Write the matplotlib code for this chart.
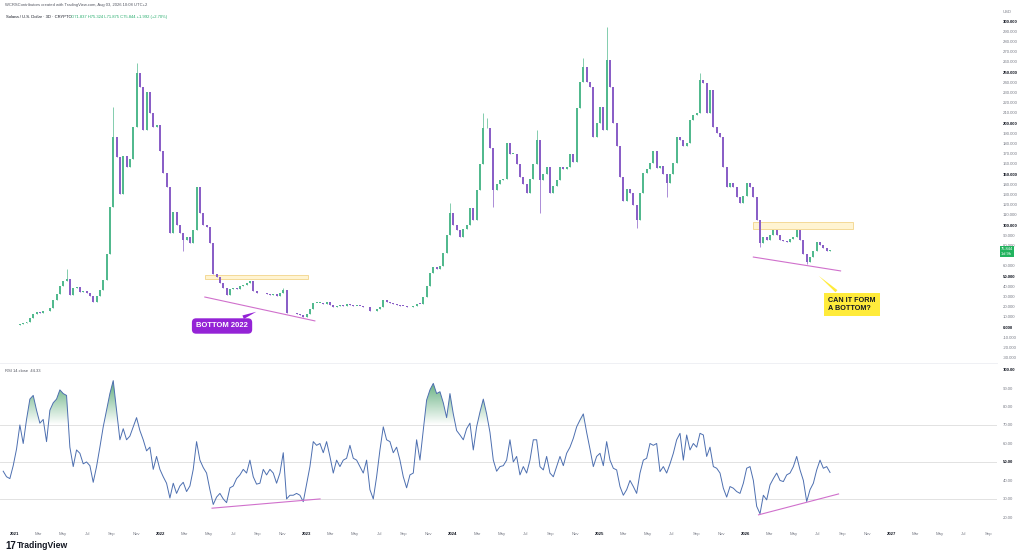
import numpy as np
import pandas as pd
import matplotlib
matplotlib.use('Agg')
import matplotlib.pyplot as plt
import matplotlib.dates as mdates
from matplotlib.path import Path
from matplotlib.patches import PathPatch, Rectangle

plt.rcParams['font.family'] = ['Liberation Sans', 'DejaVu Sans']

# SOL/USD closes, one bar every 200 hours
closes = [
    1.8, 1.6, 1.5, 1.6, 2.4, 3.4, 3.6, 4.5, 8.5, 13,
    15, 14, 15.5, 16, 19, 26, 32, 40, 45, 47,
    31, 38, 39, 34, 35, 33, 30, 25, 30, 36,
    46, 72, 118, 186, 167, 130, 168, 157, 165, 196,
    249, 235, 193, 230, 210, 196, 198, 173, 151, 137,
    92, 113, 100, 92, 85, 88, 82, 95, 137, 112,
    100, 98, 82, 52, 49, 43, 38, 31, 37, 38,
    37, 40, 41, 43, 45, 35, 33, 33, 33, 32,
    31, 32, 30, 33, 36, 14, 13.5, 14, 13, 12,
    10, 13, 18, 23.5, 24, 24, 23, 24.5, 22, 20,
    20.5, 21.5, 21, 22.5, 21.5, 21, 21, 20.5, 20, 19.5,
    15.5, 16, 18, 19.5, 26, 24.5, 23.5, 23, 22, 21,
    20.5, 19.5, 19.5, 21, 23, 22.5, 29, 40, 53, 59,
    57, 60, 73, 90, 112, 100, 95, 88, 96, 100,
    117, 105, 134, 160, 195, 195, 176, 134, 140, 144,
    145, 180, 170, 170, 160, 147, 140, 131, 145, 160,
    183, 144, 150, 157, 131, 138, 144, 157, 155, 157,
    170, 162, 215, 240, 255, 240, 235, 186, 200, 216,
    193, 262, 235, 200, 177, 147, 124, 135, 131, 120,
    105, 131, 151, 155, 161, 173, 156, 158, 150, 141,
    150, 161, 186, 183, 177, 180, 203, 208, 210, 242,
    239, 210, 232, 196, 190, 186, 157, 137, 141, 137,
    127, 122, 128, 141, 137, 127, 105, 82, 88, 85,
    90, 95, 90, 85, 84, 83, 86, 88, 95, 85,
    72, 64, 69, 75, 83, 80, 77, 75, 75.844,
]

# notable wick extremes (bar index -> price)
wick_highs = {19: 57, 33: 216, 40: 259, 84: 38, 134: 122, 144: 210, 145: 205,
              160: 193, 174: 264, 181: 294, 209: 249}
wick_lows = {54: 75, 147: 118, 161: 112, 190: 97, 199: 127, 227: 78, 241: 62}

# RSI(14) on the same bars
rsi_values = [
    45, 42, 41, 48, 57, 70, 60, 73, 84, 86,
    78, 71, 73, 61, 78, 82, 84, 89, 87, 86,
    58, 47.5, 56.5, 54.7, 49, 50, 48, 39, 47.5, 58,
    69, 78, 87, 94, 78, 62, 68, 62, 64, 69,
    74, 67, 62, 56, 58, 46, 53, 46, 42, 38.5,
    30.5, 38.5, 33, 37, 39, 34, 37, 46, 61, 51,
    47, 44, 35, 27, 31, 33, 30, 28, 36, 37,
    41, 43, 46, 44, 51, 42, 38, 38.5, 46, 43,
    46, 44, 38.5, 44, 55, 30, 32, 32, 33, 32,
    28.5, 38, 47.5, 61, 59, 60, 55, 61, 53, 44,
    51, 47.5, 51, 52, 59, 52, 51, 47.5, 44, 51,
    35, 30, 42, 56.5, 69, 62, 61, 55, 58, 51,
    42, 36, 43, 44, 62, 51, 67, 83.5, 89, 92.5,
    87, 88, 82, 74, 87, 76, 67, 64.6, 62, 68,
    71, 56.5, 69, 77, 84, 76, 66, 51, 45, 47.5,
    48, 51, 62,
    50, 53, 43, 47.5, 44, 51, 62, 62, 47.5, 45.7,
    53, 44, 42, 47.5, 53, 48, 54.7, 58, 62.8, 69,
    72.7, 76, 66, 57, 47.5, 53, 54.7, 48, 61, 51,
    46.6, 45.7, 36.7, 32, 35, 40, 36.7, 33, 44, 51,
    52, 60, 59, 60, 44.8, 47.5, 44, 49, 54.7, 62,
    65.5, 51, 64.6, 56.5, 60, 58, 65.5, 64.6, 53, 58,
    47.5, 46.6, 44, 35.8, 31, 36.7, 35.8, 34, 33, 38.5,
    46.6, 47.5, 40, 26, 22, 32, 29.5, 37.6, 41, 44,
    40, 39.4, 43, 44, 47.5, 53, 45.7, 40, 28.6, 35,
    38.5, 45.7, 51, 46.6, 47.5, 44.33,
]

first_bar = '2020-12-03'
bar_step = '200h'

# drawings on the chart: (date, value)
box_2022 = ('2022-04-21', '2023-01-04', 47, 51)
box_2026 = ('2026-01-21', '2026-09-28', 96.5, 103)
trend_2022 = [('2022-04-21', 29.4), ('2023-01-21', 6)]
trend_2026 = [('2026-01-21', 68.6), ('2026-08-27', 55)]
rsi_trend_2022 = [('2022-05-09', 25), ('2023-02-03', 30)]
rsi_trend_2026 = [('2026-02-03', 21.4), ('2026-08-22', 32.7)]

UP = '#52b98e'
DOWN = '#8a5fc7'
PINK = '#d070cc'
GREY = '#787b86'
DARK = '#131722'
SMALL = 3.1

W, H = 1024, 556


def px_box(x0, y0, x1, y1):
    return [x0 / W, 1 - y1 / H, (x1 - x0) / W, (y1 - y0) / H]


def d(s):
    return mdates.date2num(pd.Timestamp(s))


dates = pd.date_range(first_bar, periods=len(closes), freq=bar_step)
xs = mdates.date2num(dates)
c = np.array(closes, dtype=float)
o = np.r_[c[0], c[:-1]]
hi = np.maximum(o, c)
lo = np.minimum(o, c)
for k, v in wick_highs.items():
    hi[k] = v
for k, v in wick_lows.items():
    lo[k] = v
up = c >= o
cols = np.where(up, UP, DOWN)

fig = plt.figure(figsize=(10.24, 5.56), dpi=100)
ax = fig.add_axes(px_box(0, 14, 997, 362))
ax2 = fig.add_axes(px_box(0, 364, 997, 525), sharex=ax)

# candles
ax.vlines(xs, lo, hi, colors=cols, lw=0.5, zorder=2)
body = np.maximum(np.abs(c - o), 0.6)
ax.bar(xs, body, bottom=np.minimum(o, c), width=4.8, color=cols, lw=0, zorder=3)

# yellow zones and trend lines
for b in (box_2022, box_2026):
    ax.add_patch(Rectangle((d(b[0]), b[2]), d(b[1]) - d(b[0]), b[3] - b[2],
                           fc='#fff4d2', ec='#f3d58a', lw=0.6, zorder=1))
for t in (trend_2022, trend_2026):
    ax.plot([d(t[0][0]), d(t[1][0])], [t[0][1], t[1][1]], color=PINK, lw=0.8, zorder=4)

ax.annotate('BOTTOM 2022', xy=(d('2022-09-03'), 16), xytext=(d('2022-06-03'), 1),
            ha='center', va='center', fontsize=5.5, fontweight='bold', color='white',
            bbox=dict(boxstyle='round,pad=0.55', fc='#9423d6', ec='none'),
            arrowprops=dict(arrowstyle='wedge,tail_width=0.5', fc='#9423d6', ec='none'),
            zorder=6)
ax.annotate('CAN IT FORM\nA BOTTOM?', xy=(d('2026-06-28'), 52), xytext=(d('2026-07-27'), 22),
            ha='left', va='center', fontsize=5.2, fontweight='bold', color=DARK,
            linespacing=1.1,
            bbox=dict(boxstyle='square,pad=0.6', fc='#ffeb3b', ec='none'),
            arrowprops=dict(arrowstyle='wedge,tail_width=0.4', fc='#ffeb3b', ec='none'),
            zorder=6)

ax.set_ylim(-34.3, 306.9)
ax.yaxis.tick_right()
pticks = np.arange(-30, 301, 10)
ax.set_yticks(pticks)
# the 70 label sits under the last-price tag
ax.set_yticklabels(['' if v == 70 else f'{v:.3f}' for v in pticks])
ax.tick_params(axis='y', length=0, pad=4, labelsize=SMALL, labelcolor=GREY)
for v, lab in zip(pticks, ax.get_yticklabels()):
    if v % 50 == 0:
        lab.set_fontweight('bold')
        lab.set_color(DARK)
ax.tick_params(axis='x', length=0, labelbottom=False)

# last price tag: price on the first line, bar countdown below it
ax.text(1.004, c[-1] + 2.2, '75.844\n1d 9h', transform=ax.get_yaxis_transform(),
        ha='left', va='top', fontsize=2.9, color='white', linespacing=1.1,
        bbox=dict(boxstyle='square,pad=0.3', fc='#22b35e', ec='none'), clip_on=False)

# RSI pane
rsi = np.array(rsi_values, dtype=float)
for lvl in (70, 50, 30):
    ax2.axhline(lvl, color='#e2e2e2', lw=0.7, zorder=1)
fb = ax2.fill_between(xs, 70, rsi, where=rsi > 70, interpolate=True, color='none', lw=0)
clip = PathPatch(Path.make_compound_path(*fb.get_paths()), transform=ax2.transData,
                 fc='none', ec='none')
ax2.add_patch(clip)
grad = np.zeros((100, 2, 4))
grad[:, :, 0] = 0.22
grad[:, :, 1] = 0.60
grad[:, :, 2] = 0.36
grad[:, :, 3] = np.linspace(0.85, 0.0, 100)[:, None]
im = ax2.imshow(grad, extent=[xs[0], xs[-1], 70, 95], origin='upper', aspect='auto', zorder=2)
im.set_clip_path(clip)
ax2.plot(xs, rsi, color='#4d6fb0', lw=0.7, zorder=3)
for t in (rsi_trend_2022, rsi_trend_2026):
    ax2.plot([d(t[0][0]), d(t[1][0])], [t[0][1], t[1][1]], color=PINK, lw=0.8, zorder=4)

ax2.set_ylim(15.9, 103)
ax2.yaxis.tick_right()
rticks = np.arange(20, 101, 10)
ax2.set_yticks(rticks)
ax2.set_yticklabels([f'{v:.2f}' for v in rticks])
ax2.tick_params(axis='y', length=0, pad=4, labelsize=SMALL, labelcolor=GREY)
for v, lab in zip(rticks, ax2.get_yticklabels()):
    if v in (50, 100):
        lab.set_fontweight('bold')
        lab.set_color(DARK)
ax2.text(0.005, 0.97, 'RSI 14 close  44.33', transform=ax2.transAxes, fontsize=3.0,
         color='#50535e', va='top')

months = pd.date_range('2021-01-01', '2027-09-01', freq='2MS')
ax2.set_xticks(mdates.date2num(months))
ax2.set_xticklabels([str(m.year) if m.month == 1 else m.strftime('%b') for m in months])
ax2.tick_params(axis='x', length=0, pad=5, labelsize=SMALL, labelcolor=GREY)
for m, lab in zip(months, ax2.get_xticklabels()):
    if m.month == 1:
        lab.set_fontweight('bold')
        lab.set_color(DARK)

ax.set_xlim(d('2020-11-25'), d('2027-09-22'))
for a in (ax, ax2):
    for s in a.spines.values():
        s.set_visible(False)

fig.add_artist(plt.Line2D([0, 997 / W], [1 - 363 / H] * 2, color='#eceef2', lw=0.6))

fig.text(5 / W, 1 - 5 / H, 'WCRSContributors created with TradingView.com, Aug 03, 2026 10:08 UTC+2',
         fontsize=3.0, color='#50535e', va='center')
fig.text(6 / W, 1 - 17 / H, 'Solana / U.S. Dollar · 3D · CRYPTO', fontsize=3.0, color=DARK, va='center')
fig.text(71 / W, 1 - 17 / H, 'O71.837 H75.324 L71.875 C75.844 +1.992 (+2.70%)',
         fontsize=3.0, color='#22ab6a', va='center')
fig.text(1003 / W, 1 - 12 / H, 'USD', fontsize=3.0, color=GREY, va='center')
fig.text(5 / W, 1 - 546 / H, '17', fontsize=7, fontweight='heavy', color=DARK, va='center')
fig.text(17 / W, 1 - 546 / H, 'TradingView', fontsize=6.2, fontweight='bold', color=DARK, va='center')

fig.savefig('out.png', dpi=100)
